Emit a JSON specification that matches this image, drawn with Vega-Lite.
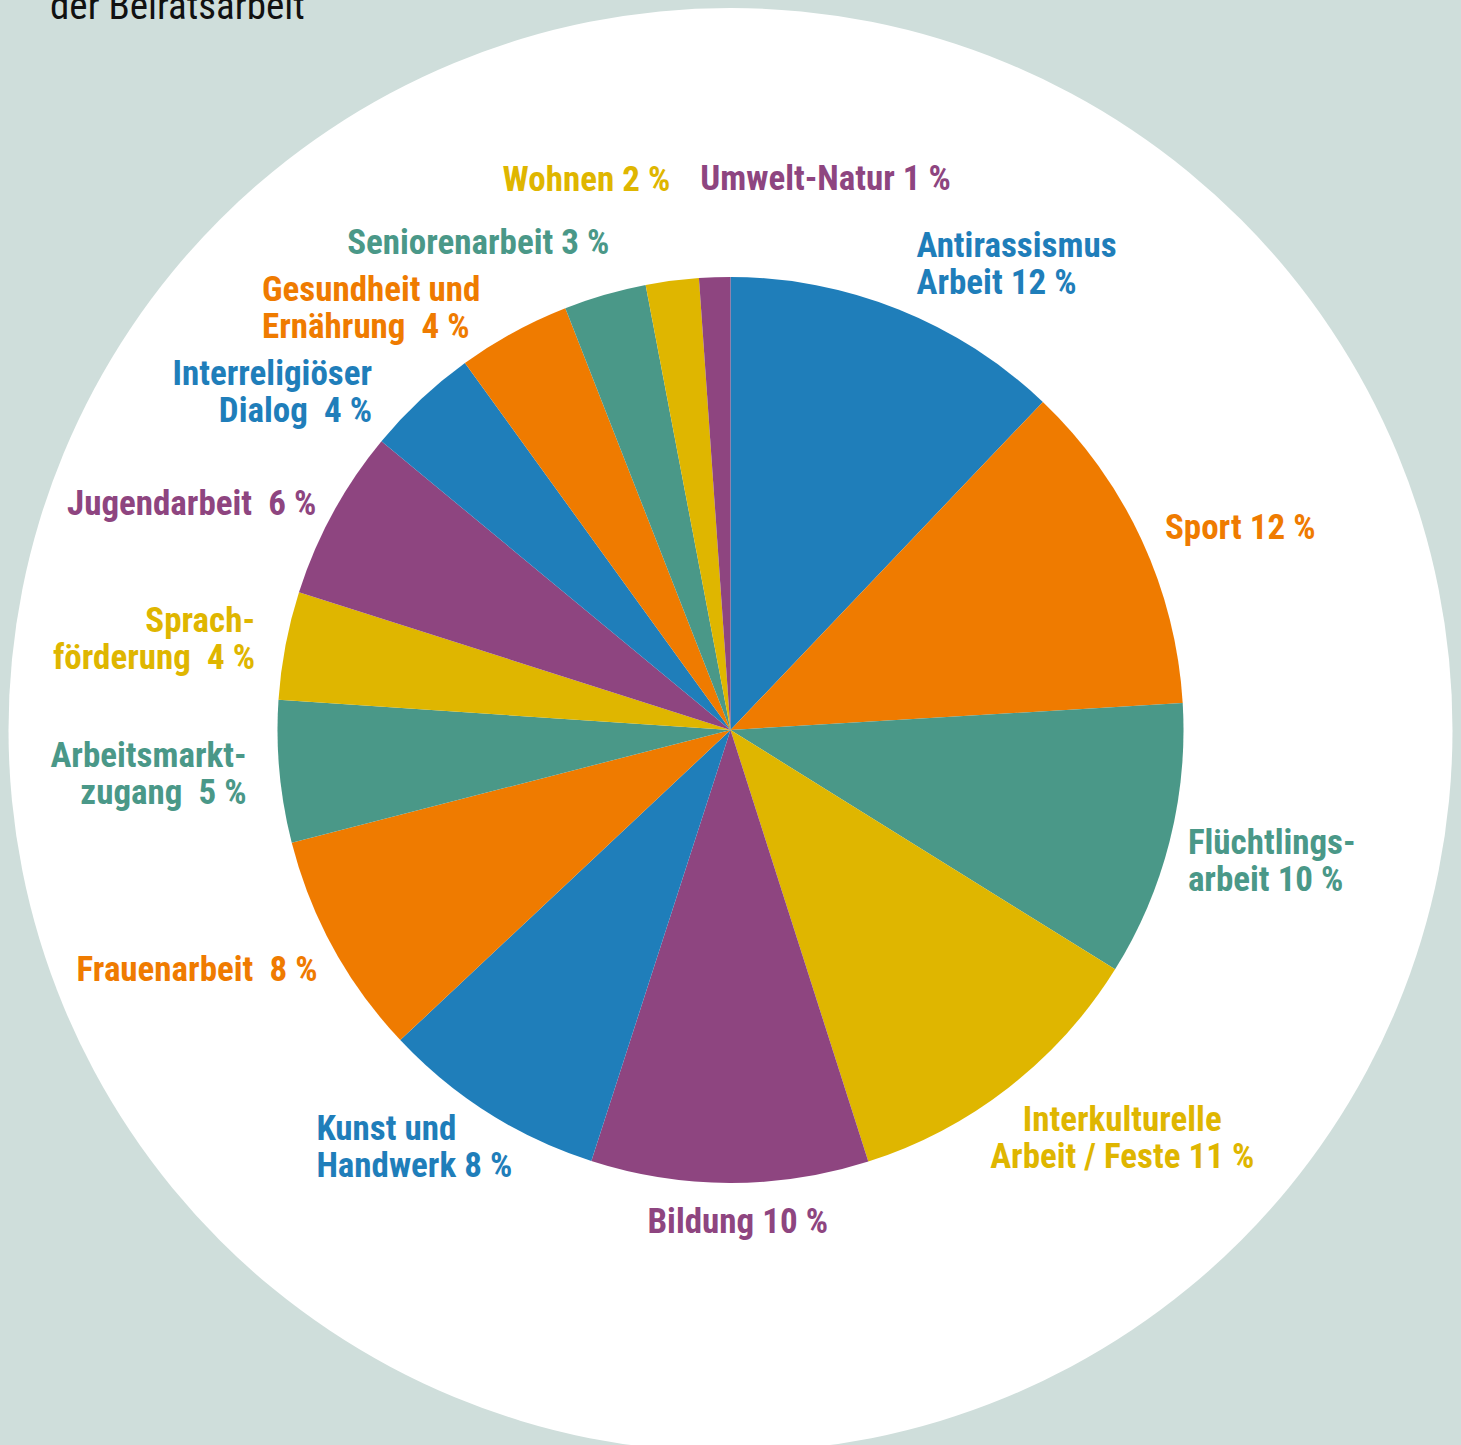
{
  "$schema": "https://vega.github.io/schema/vega-lite/v6.json",
  "width": 1461,
  "height": 1460,
  "autosize": "none",
  "padding": 0,
  "background": "#cfdedb",
  "view": {"stroke": null},
  "title": {
    "text": "der Beiratsarbeit",
    "anchor": "start",
    "frame": "group",
    "dx": 50,
    "dy": 31,
    "font": "Roboto Condensed, Noto Sans Condensed, DejaVu Sans Condensed, sans-serif",
    "fontSize": 39,
    "fontWeight": "normal",
    "color": "#111111"
  },
  "config": {
    "text": {
      "font": "Roboto Condensed, Noto Sans Condensed, DejaVu Sans Condensed, sans-serif",
      "fontSize": 35,
      "fontWeight": "bold",
      "lineHeight": 37,
      "lineBreak": "\n",
      "baseline": "middle"
    }
  },
  "layer": [
    {
      "data": {"values": [{"shape": "background"}]},
      "mark": {"type": "arc", "radius": 722, "theta": 0, "theta2": 6.2832, "color": "#ffffff"},
      "encoding": {}
    },
    {
      "data": {
        "values": [
          {"i": 1, "name": "Antirassismus", "label": "Antirassismus\nArbeit 12 %", "value": 12.11},
          {"i": 2, "name": "Sport", "label": "Sport 12 %", "value": 11.94},
          {"i": 3, "name": "Flüchtlingsarbeit", "label": "Flüchtlings-\narbeit 10 %", "value": 9.81},
          {"i": 4, "name": "Interkulturelle", "label": "Interkulturelle\nArbeit / Feste 11 %", "value": 11.22},
          {"i": 5, "name": "Bildung", "label": "Bildung 10 %", "value": 9.89},
          {"i": 6, "name": "Kunst", "label": "Kunst und\nHandwerk 8 %", "value": 8.03},
          {"i": 7, "name": "Frauenarbeit", "label": "Frauenarbeit\u00a0 8 %", "value": 8.0},
          {"i": 8, "name": "Arbeitsmarkt", "label": "Arbeitsmarkt-\nzugang\u00a0 5 %", "value": 5.06},
          {"i": 9, "name": "Sprachförderung", "label": "Sprach-\nförderung\u00a0 4 %", "value": 3.86},
          {"i": 10, "name": "Jugendarbeit", "label": "Jugendarbeit\u00a0 6 %", "value": 6.08},
          {"i": 11, "name": "Interreligiöser Dialog", "label": "Interreligiöser\nDialog\u00a0 4 %", "value": 4.03},
          {"i": 12, "name": "Gesundheit", "label": "Gesundheit und\nErnährung\u00a0 4 %", "value": 4.03},
          {"i": 13, "name": "Seniorenarbeit", "label": "Seniorenarbeit 3 %", "value": 2.94},
          {"i": 14, "name": "Wohnen", "label": "Wohnen 2 %", "value": 1.89},
          {"i": 15, "name": "Umwelt-Natur", "label": "Umwelt-Natur 1 %", "value": 1.11}
        ]
      },
      "encoding": {
        "theta": {"field": "value", "type": "quantitative", "stack": true},
        "order": {"field": "i", "type": "quantitative"},
        "color": {
          "field": "name",
          "type": "nominal",
          "legend": null,
          "scale": {
            "domain": ["Antirassismus", "Sport", "Flüchtlingsarbeit", "Interkulturelle", "Bildung", "Kunst", "Frauenarbeit", "Arbeitsmarkt", "Sprachförderung", "Jugendarbeit", "Interreligiöser Dialog", "Gesundheit", "Seniorenarbeit", "Wohnen", "Umwelt-Natur"],
            "range": ["#1f7eba", "#ef7b00", "#4a9888", "#dfb600", "#8e4580", "#1f7eba", "#ef7b00", "#4a9888", "#dfb600", "#8e4580", "#1f7eba", "#ef7b00", "#4a9888", "#dfb600", "#8e4580"]
          }
        }
      },
      "layer": [
        {"mark": {"type": "arc", "radius": 453}},
        {"mark": {"type": "text", "radius": 501, "align": "left", "dy": -19},
         "encoding": {"text": {"condition": {"test": "datum.name === 'Antirassismus'", "field": "label"}, "value": ""}}},
        {"mark": {"type": "text", "radius": 479, "align": "left"},
         "encoding": {"text": {"condition": {"test": "datum.name === 'Sport'", "field": "label"}, "value": ""}}},
        {"mark": {"type": "text", "radius": 476, "align": "left", "dx": -4, "dy": -4},
         "encoding": {"text": {"condition": {"test": "datum.name === 'Flüchtlingsarbeit'", "field": "label"}, "value": ""}}},
        {"mark": {"type": "text", "radius": 566, "align": "center", "dx": 44, "dy": -57},
         "encoding": {"text": {"condition": {"test": "datum.name === 'Interkulturelle'", "field": "label"}, "value": ""}}},
        {"mark": {"type": "text", "radius": 492, "align": "center", "dx": 8},
         "encoding": {"text": {"condition": {"test": "datum.name === 'Bildung'", "field": "label"}, "value": ""}}},
        {"mark": {"type": "text", "radius": 574, "align": "left", "dx": -107, "dy": -86},
         "encoding": {"text": {"condition": {"test": "datum.name === 'Kunst'", "field": "label"}, "value": ""}}},
        {"mark": {"type": "text", "radius": 477, "align": "right", "dx": 5, "dy": 10},
         "encoding": {"text": {"condition": {"test": "datum.name === 'Frauenarbeit'", "field": "label"}, "value": ""}}},
        {"mark": {"type": "text", "radius": 486, "align": "right", "dy": -19},
         "encoding": {"text": {"condition": {"test": "datum.name === 'Arbeitsmarkt'", "field": "label"}, "value": ""}}},
        {"mark": {"type": "text", "radius": 484, "align": "right", "dy": -19},
         "encoding": {"text": {"condition": {"test": "datum.name === 'Sprachförderung'", "field": "label"}, "value": ""}}},
        {"mark": {"type": "text", "radius": 472, "align": "right"},
         "encoding": {"text": {"condition": {"test": "datum.name === 'Jugendarbeit'", "field": "label"}, "value": ""}}},
        {"mark": {"type": "text", "radius": 492, "align": "right", "dx": -22, "dy": 3},
         "encoding": {"text": {"condition": {"test": "datum.name === 'Interreligiöser Dialog'", "field": "label"}, "value": ""}}},
        {"mark": {"type": "text", "radius": 560, "align": "left", "dx": -200, "dy": 51},
         "encoding": {"text": {"condition": {"test": "datum.name === 'Gesundheit'", "field": "label"}, "value": ""}}},
        {"mark": {"type": "text", "radius": 502, "align": "right", "dx": 18, "dy": -5},
         "encoding": {"text": {"condition": {"test": "datum.name === 'Seniorenarbeit'", "field": "label"}, "value": ""}}},
        {"mark": {"type": "text", "radius": 553, "align": "right", "dx": 11, "dy": -2},
         "encoding": {"text": {"condition": {"test": "datum.name === 'Wohnen'", "field": "label"}, "value": ""}}},
        {"mark": {"type": "text", "radius": 551, "align": "left", "dx": -11},
         "encoding": {"text": {"condition": {"test": "datum.name === 'Umwelt-Natur'", "field": "label"}, "value": ""}}}
      ]
    }
  ]
}
